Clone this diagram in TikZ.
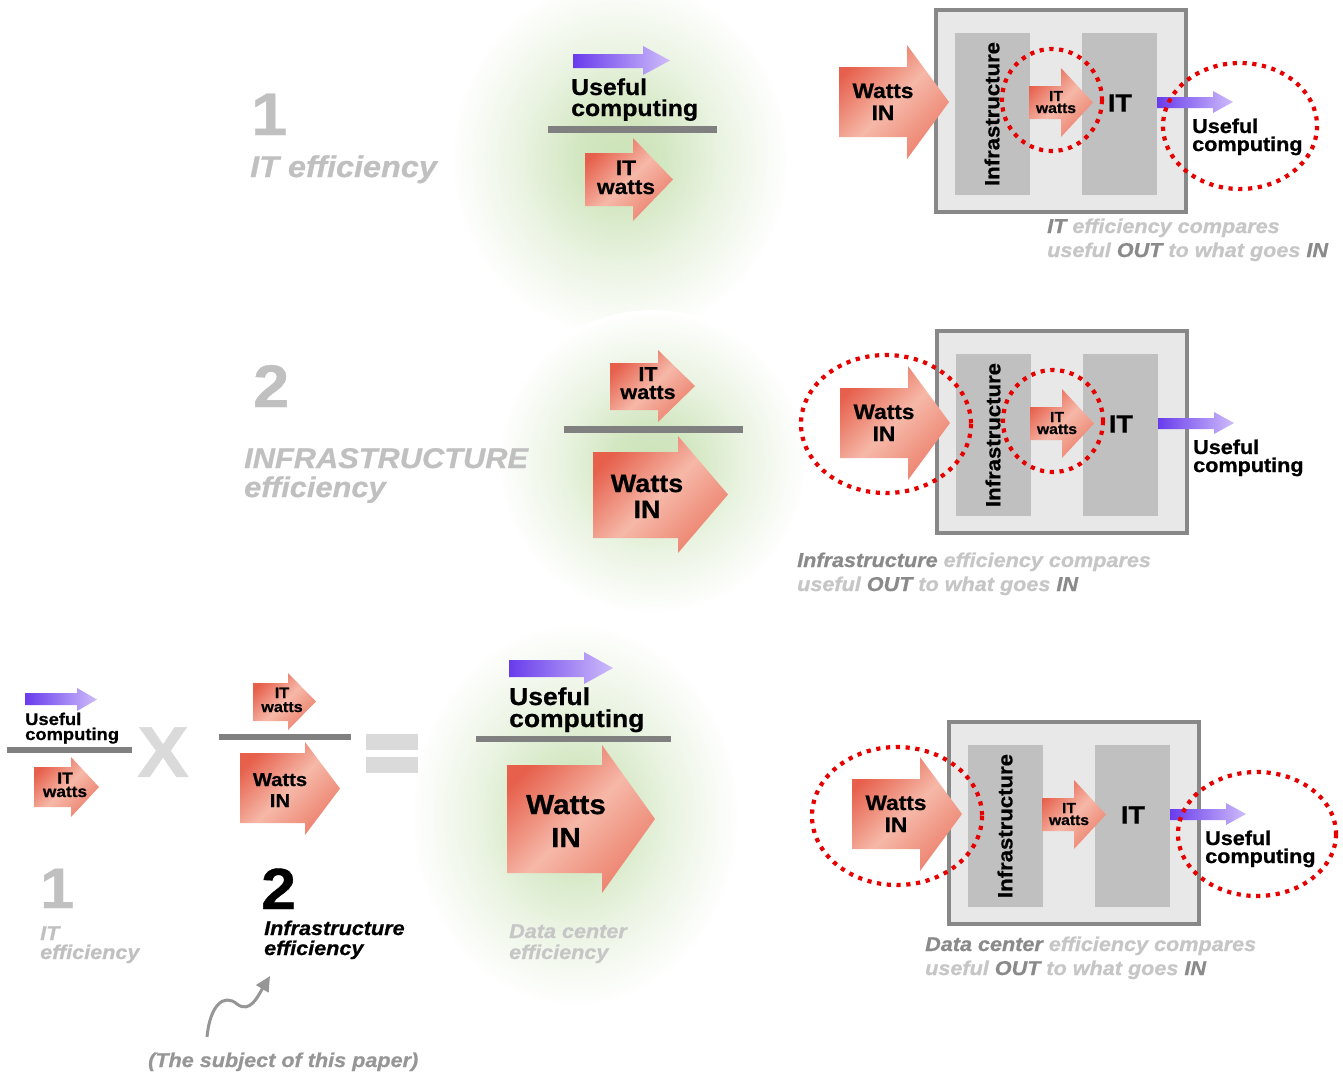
\documentclass[tikz,border=0pt]{standalone}
\usepackage{fontspec}
\newfontfamily\hv{Liberation Sans}[FakeStretch=1.08, BoldFeatures={FakeBold=0.7}, BoldItalicFeatures={FakeBold=0.7}]
\usetikzlibrary{arrows.meta}
\definecolor{glowc}{RGB}{204,227,184}
\definecolor{rtop}{RGB}{230,96,76}
\definecolor{rmid}{RGB}{246,184,168}
\definecolor{rbot}{RGB}{236,128,108}
\definecolor{pleft}{RGB}{104,60,236}
\definecolor{pright}{RGB}{206,188,250}
\definecolor{boxborder}{RGB}{136,136,136}
\definecolor{boxfill}{RGB}{232,232,232}
\definecolor{colfill}{RGB}{192,192,192}
\definecolor{bargray}{RGB}{128,128,128}
\definecolor{numgray}{RGB}{192,192,192}
\definecolor{xgray}{RGB}{218,218,218}
\definecolor{caplight}{RGB}{198,198,198}
\definecolor{capdark}{RGB}{138,138,138}
\definecolor{dotred}{RGB}{230,0,0}
\definecolor{curvegray}{RGB}{150,150,150}
\pgfdeclareradialshading{glowshade}{\pgfpoint{0bp}{0bp}}{color(0bp)=(glowc); color(6bp)=(glowc!88!white); color(15bp)=(glowc!40!white); color(25bp)=(white); color(50bp)=(white)}
\newcommand\setfs[2]{\fontsize{#1}{#2}\selectfont}
% x_left, body_top, body_bottom, x_head, head_top, head_bottom, x_tip
\newcommand\redarrowshape[7]{\shade[redshade] (#1,#2) -- (#4,#2) -- (#4,#5) -- (#7,{0.5*(#5+#6)}) -- (#4,#6) -- (#4,#3) -- (#1,#3) -- cycle;}
\newcommand\purparrowshape[7]{\shade[purpshade] (#1,#2) -- (#4,#2) -- (#4,#5) -- (#7,{0.5*(#5+#6)}) -- (#4,#6) -- (#4,#3) -- (#1,#3) -- cycle;}
\tikzset{
  redshade/.style={top color=rtop, bottom color=rbot, middle color=rmid, shading angle=45},
  purpshade/.style={left color=pleft, right color=pright},
  dotring/.style={draw=dotred, line width=4.2pt, dash pattern=on 4.2pt off 5.6pt},
  bar/.style={fill=bargray, draw=none},
  lbl/.style={inner sep=0pt, align=center, text=black},
  lbll/.style={inner sep=0pt, align=left, anchor=base west},
  bignum/.style={inner sep=0pt, anchor=base west, font=\hv\bfseries\setfs{60}{60}},
  graylbl/.style={lbll, text=numgray, font=\hv\bfseries\itshape\setfs{20}{19}},
  caption/.style={lbll, text=caplight, font=\hv\bfseries\itshape\setfs{20}{24}},
  glow/.style={shading=glowshade}
}
\begin{document}
\begin{tikzpicture}[x=1pt,y=-1pt]
\useasboundingbox (0,0) rectangle (1343,1072);
\fill[white] (0,0) rectangle (1343,1072);
% glows
\shade[glow] (620,158) ellipse [x radius=170, y radius=180];
\shade[glow] (652,462) ellipse [x radius=155, y radius=152];
\shade[glow] (575,815) ellipse [x radius=165, y radius=192];

% ================= TOP ROW =================
\node[bignum, text=numgray] (n1) at (251,135) {1};
\node[lbll, text=numgray, font=\hv\bfseries\itshape\setfs{30}{30}] (ite) at (250,177) {IT efficiency};

\purparrowshape{573}{54}{68}{643}{46}{75}{670}
\node[lbll, font=\hv\bfseries\setfs{23}{21}] (uc1) at (571,116) {Useful\\computing};
\fill[bar] (548,126) rectangle (717,133);
\redarrowshape{585}{153}{206}{633}{138}{221}{673}
\node[lbl, anchor=base, font=\hv\bfseries\setfs{21}{19}] (itw1) at (626,194) {IT\\watts};

% ================= MIDDLE ROW =================
\node[bignum, text=numgray] (n2) at (253,407) {2};
\node[lbll, text=numgray, font=\hv\bfseries\itshape\setfs{28.5}{29}] (infe) at (244,497) {INFRASTRUCTURE\\efficiency};

\redarrowshape{610}{363}{410}{658}{350}{422}{695}
\node[lbl, anchor=base, font=\hv\bfseries\setfs{20}{18}] (itw2) at (648,399) {IT\\watts};
\fill[bar] (564,426) rectangle (743,433);
\redarrowshape{593}{452}{538}{678}{436}{553}{728}
\node[lbl, anchor=base, font=\hv\bfseries\setfs{25}{26}] (wi2) at (647,518) {Watts\\IN};

% ================= BOTTOM ROW =================
\purparrowshape{25}{693}{705}{77}{688}{711}{97}
\node[lbll, font=\hv\bfseries\setfs{17}{15}] (uc3a) at (25,740) {Useful\\computing};
\fill[bar] (7,747) rectangle (132,753);
\redarrowshape{34}{767}{807}{71}{757}{817}{99}
\node[lbl, anchor=base, font=\hv\bfseries\setfs{16}{13.5}] (itw3a) at (65,797) {IT\\watts};

\node[inner sep=0pt, text=xgray, font=\hv\bfseries\setfs{72}{72}] (xsign) at (163,752) {X};

\redarrowshape{253}{683}{721}{288}{673}{730}{316}
\node[lbl, anchor=base, font=\hv\bfseries\setfs{15}{14}] (itw3b) at (282,712) {IT\\watts};
\fill[bar] (219,734) rectangle (351,740);
\redarrowshape{240}{753}{823}{305}{742}{835}{340}
\node[lbl, anchor=base, font=\hv\bfseries\setfs{18.7}{21}] (wi3b) at (280,807) {Watts\\IN};

\fill[xgray] (366,734) rectangle (418,750);
\fill[xgray] (366,757) rectangle (418,773);

\node[bignum, text=numgray, font=\hv\bfseries\setfs{57}{57}] (n1b) at (40,908) {1};
\node[graylbl] (ite2) at (40,959) {IT\\efficiency};
\node[bignum, text=black, font=\hv\bfseries\setfs{58}{58}] (n2b) at (261,909) {2};
\node[lbll, text=black, font=\hv\bfseries\itshape\setfs{20}{20}] (infe2) at (264,955) {Infrastructure\\efficiency};

\coordinate (cstart) at (207,1037);
\coordinate (cend) at (270,976);
\draw[draw=curvegray, line width=3pt, -{Triangle[length=15pt,width=14pt]}] (cstart) .. controls (210,1005) and (224,993) .. (237,1004) .. controls (250,1014) and (258,996) .. (cend);
\node[lbll, text=curvegray, font=\hv\bfseries\itshape\setfs{20}{20}] (subj) at (148,1067) {(The subject of this paper)};

\purparrowshape{509}{660}{677}{584}{652}{684}{613}
\node[lbll, font=\hv\bfseries\setfs{24.5}{22}] (uc3c) at (509,727) {Useful\\computing};
\fill[bar] (476,736) rectangle (671,742);
\redarrowshape{507}{765}{873}{602}{745}{893}{655}
\node[lbl, anchor=base, font=\hv\bfseries\setfs{27.5}{33}] (wi3c) at (566,847) {Watts\\IN};
\node[lbll, text=caplight, font=\hv\bfseries\itshape\setfs{20}{21}] (dce) at (509,959) {Data center\\efficiency};

% ================= DIAGRAMS =================
% top
\begin{scope}[shift={(0,0)}]
  \draw[draw=boxborder, fill=boxfill, line width=3.5pt] (936,10) rectangle (1186,212);
  \fill[colfill] (955,33) rectangle (1030,195);
  \fill[colfill] (1082,33) rectangle (1157,195);
  \redarrowshape{839}{67}{137}{907}{45}{159}{949}
  \redarrowshape{1029}{86}{119}{1061}{68}{137}{1093}
  \purparrowshape{1157}{97}{108}{1213}{91}{113}{1233}
  \draw[dotring] (1052,100) ellipse [x radius=50, y radius=51];
  \draw[dotring] (1240,126) ellipse [x radius=77, y radius=63];
  \node[lbl, anchor=base, font=\hv\bfseries\setfs{21}{22}] (wiA) at (883,120) {Watts\\IN};
  \node[lbl, rotate=90, font=\hv\bfseries\setfs{20.5}{20}] (infA) at (992,114) {Infrastructure};
  \node[lbl, anchor=base, font=\hv\bfseries\setfs{14.5}{12}] (itwA) at (1056,113) {IT\\watts};
  \node[lbl, font=\hv\bfseries\setfs{25}{25}] (itA) at (1120,103) {IT};
  \node[lbll, font=\hv\bfseries\setfs{20}{18}] (ucA) at (1192,151) {Useful\\computing};
\end{scope}
\node[caption] (capA) at (1047,257) {{\color{capdark}IT} efficiency compares\\useful {\color{capdark}OUT} to what goes {\color{capdark}IN}};

% middle
\begin{scope}[shift={(1,321)}]
  \draw[draw=boxborder, fill=boxfill, line width=3.5pt] (936,10) rectangle (1186,212);
  \fill[colfill] (955,33) rectangle (1030,195);
  \fill[colfill] (1082,33) rectangle (1157,195);
  \redarrowshape{839}{67}{137}{907}{45}{159}{949}
  \redarrowshape{1029}{86}{119}{1061}{68}{137}{1093}
  \purparrowshape{1157}{97}{108}{1213}{91}{113}{1233}
  \draw[dotring] (885,103) ellipse [x radius=85, y radius=69];
  \draw[dotring] (1052,100) ellipse [x radius=50, y radius=51];
  \node[lbl, anchor=base, font=\hv\bfseries\setfs{21}{22}] (wiB) at (883,120) {Watts\\IN};
  \node[lbl, rotate=90, font=\hv\bfseries\setfs{20.5}{20}] (infB) at (992,114) {Infrastructure};
  \node[lbl, anchor=base, font=\hv\bfseries\setfs{14.5}{12}] (itwB) at (1056,113) {IT\\watts};
  \node[lbl, font=\hv\bfseries\setfs{25}{25}] (itB) at (1120,103) {IT};
  \node[lbll, font=\hv\bfseries\setfs{20}{18}] (ucB) at (1192,151) {Useful\\computing};
\end{scope}
\node[caption] (capB) at (797,591) {{\color{capdark}Infrastructure} efficiency compares\\useful {\color{capdark}OUT} to what goes {\color{capdark}IN}};

% bottom
\begin{scope}[shift={(13,712)}]
  \draw[draw=boxborder, fill=boxfill, line width=3.5pt] (936,10) rectangle (1186,212);
  \fill[colfill] (955,33) rectangle (1030,195);
  \fill[colfill] (1082,33) rectangle (1157,195);
  \redarrowshape{839}{67}{137}{907}{45}{159}{949}
  \redarrowshape{1029}{86}{119}{1061}{68}{137}{1093}
  \purparrowshape{1157}{97}{108}{1213}{91}{113}{1233}
  \draw[dotring] (884,104) ellipse [x radius=85, y radius=69];
  \draw[dotring] (1244,122) ellipse [x radius=79, y radius=62];
  \node[lbl, anchor=base, font=\hv\bfseries\setfs{21}{22}] (wiC) at (883,120) {Watts\\IN};
  \node[lbl, rotate=90, font=\hv\bfseries\setfs{20.5}{20}] (infC) at (992,114) {Infrastructure};
  \node[lbl, anchor=base, font=\hv\bfseries\setfs{14.5}{12}] (itwC) at (1056,113) {IT\\watts};
  \node[lbl, font=\hv\bfseries\setfs{25}{25}] (itC) at (1120,103) {IT};
  \node[lbll, font=\hv\bfseries\setfs{20}{18}] (ucC) at (1192,151) {Useful\\computing};
\end{scope}
\node[caption] (capC) at (925,975) {{\color{capdark}Data center} efficiency compares\\useful {\color{capdark}OUT} to what goes {\color{capdark}IN}};
\end{tikzpicture}
\end{document}
